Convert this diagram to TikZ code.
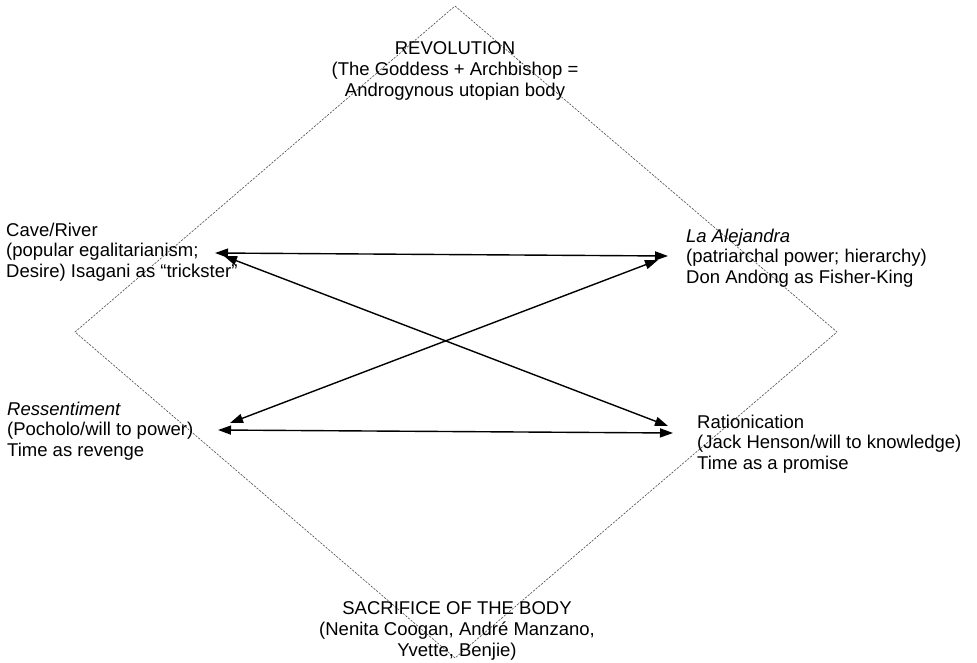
\documentclass[tikz,border=0pt]{standalone}
\usepackage{fontspec}
\setmainfont{Liberation Sans}
\usetikzlibrary{arrows.meta}
\begin{document}
\begin{tikzpicture}[x=1pt,y=-1pt,
  lbl/.style={inner sep=0pt, font=\fontsize{18.5}{20.8}\selectfont},
  frame/.style={draw=black!70, line width=0.6pt, dash pattern=on 2.2pt off 1.3pt},
  link/.style={draw=black, line width=1.4pt, {Triangle[length=13pt,width=9pt]}-{Triangle[length=13pt,width=9pt]}}]
\useasboundingbox (0,0) rectangle (977,663);
% diamond frame
\coordinate (dt) at (455,6);
\coordinate (dr) at (837,332);
\coordinate (db) at (455,658);
\coordinate (dl) at (75,332);
\draw[frame] (dt) -- (dr) -- (db) -- (dl) -- cycle;
% texts
\node[lbl, anchor=north, align=center] (rev) at (455,41.5) {REVOLUTION\\(The Goddess + Archbishop =\\Androgynous utopian body};
\node[lbl, anchor=north west, align=left] (cave) at (6,222.5) {Cave/River\\(popular egalitarianism;\\Desire) Isagani as “trickster”};
\node[lbl, anchor=north west, align=left] (alej) at (686,228.5) {\itshape La Alejandra\\(patriarchal power; hierarchy)\\Don Andong as Fisher-King};
\node[lbl, anchor=north west, align=left] (ress) at (7,401.5) {\itshape Ressentiment\\(Pocholo/will to power)\\Time as revenge};
\node[lbl, anchor=north west, align=left] (rat) at (697,414.5) {Rationication\\(Jack Henson/will to knowledge)\\Time as a promise};
\node[lbl, anchor=north, align=center] (sac) at (457,601.5) {SACRIFICE OF THE BODY\\(Nenita Coogan, André Manzano,\\Yvette, Benjie)};
% arrow ends
\coordinate (c1) at (215,253);
\coordinate (a1) at (668,256);
\coordinate (c2) at (224,256);
\coordinate (r2) at (668,426);
\coordinate (s3) at (230,423);
\coordinate (a3) at (658,260);
\coordinate (s4) at (218,430);
\coordinate (r4) at (673,433);
\draw[link] (c1) -- (a1);
\draw[link] (c2) -- (r2);
\draw[link] (s3) -- (a3);
\draw[link] (s4) -- (r4);
\end{tikzpicture}
\end{document}
